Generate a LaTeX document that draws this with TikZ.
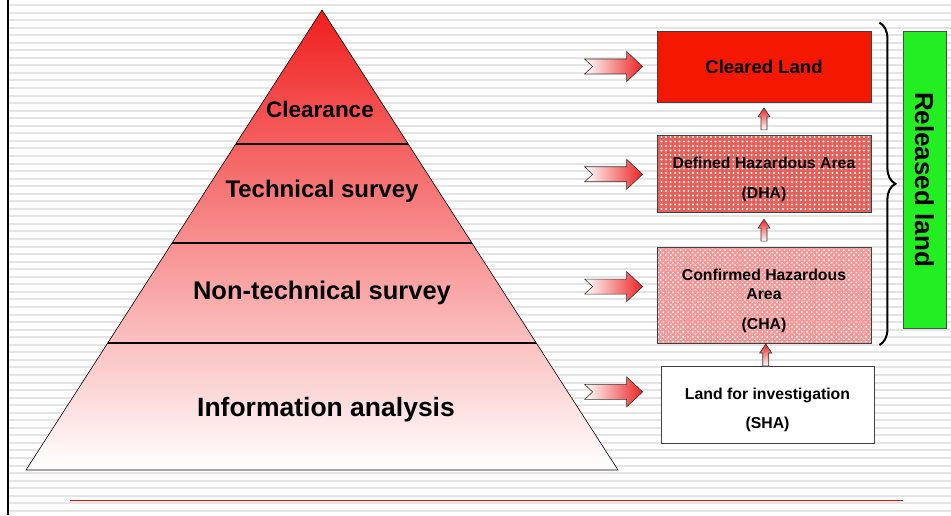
\documentclass[tikz,border=0pt]{standalone}
\usepackage{fontspec}
\setmainfont{Liberation Sans}
\usepackage{tikz}
\usetikzlibrary{positioning}
\usetikzlibrary{calc}
\usetikzlibrary{patterns.meta}
\usetikzlibrary{decorations.pathreplacing}

\definecolor{stripegray}{RGB}{228,228,228}
\definecolor{toppink}{RGB}{240,30,30}
\definecolor{clearedred}{RGB}{244,24,0}
\definecolor{dhared}{RGB}{230,96,90}
\definecolor{chapink}{RGB}{244,150,150}
\definecolor{arrowred}{RGB}{236,36,36}
\definecolor{releasegreen}{RGB}{34,238,34}

\newcommand{\topgap}{\rule{0pt}{21.5pt}}

\tikzset{
  layer/.style={font=\bfseries\fontsize{#1}{#1}\selectfont},
  divider/.style={line width=2.5pt},
  landbox/.style={draw=black!75, line width=0.8pt, minimum width=214pt, inner sep=0pt,
    align=center, font=\bfseries\fontsize{15.8}{19}\selectfont},
  pics/feedarrow/.style={code={
    \path[draw=black!80, line width=0.6pt, left color=white, right color=arrowred]
      (0,0) -- (-16,15) -- (-16,7.5) -- (-58,7.5) -- (-50,0) -- (-58,-7.5)
      -- (-16,-7.5) -- (-16,-15) -- cycle;}},
  pics/liftarrow/.style={code={
    \path[draw=black!80, line width=0.6pt, bottom color=white, top color=arrowred]
      (0,11) -- (6,2) -- (3,2) -- (3,-11) -- (-3,-11) -- (-3,2) -- (-6,2) -- cycle;}}
}

\begin{document}
\begin{tikzpicture}[x=1pt, y=1pt]
\useasboundingbox (0,0) rectangle (951,515);
\fill[white] (0,0) rectangle (951,515);
\foreach \k in {0,...,68}
  \draw[stripegray, line width=2pt] (9,510-7.55*\k) -- (951,510-7.55*\k);
\draw[line width=2pt] (8,0) -- (8,515);

% pyramid
\coordinate (apex) at (322,505);
\coordinate (bl) at (26,45);
\coordinate (br) at (618,45);
\draw[line width=0.6pt, top color=toppink, bottom color=white] (apex) -- (bl) -- (br) -- cycle;
\draw[divider] ($(apex)!0.291!(bl)$) -- ($(apex)!0.291!(br)$);
\draw[divider] ($(apex)!0.507!(bl)$) -- ($(apex)!0.507!(br)$);
\draw[divider] ($(apex)!0.724!(bl)$) -- ($(apex)!0.724!(br)$);

\node[layer=22.5] (clearance) at (320,406) {Clearance};
\node[layer=24] (technical) at (322,324) {Technical survey};
\node[layer=25.5] (nontechnical) at (322,222) {Non-technical survey};
\node[layer=26.5] (information) at (326,105) {Information analysis};

% land categories
\node[landbox, fill=clearedred, minimum height=71pt,
  font=\bfseries\fontsize{18.5}{22}\selectfont] (cleared) at (764,448.5) {Cleared Land};
\node[landbox, below=33pt of cleared, minimum height=77pt, preaction={fill=dhared},
  pattern={Dots[distance=4.5pt, radius=1.1pt]}, pattern color=white] (dha)
  {\topgap Defined Hazardous Area\\[11pt](DHA)};
\node[landbox, below=34pt of dha, minimum height=96pt, preaction={fill=chapink},
  pattern={Dots[angle=45, distance=3.5pt, radius=1pt]}, pattern color=white] (cha)
  {\topgap Confirmed Hazardous\\Area\\[11pt](CHA)};
\node[landbox, below=22pt of cha, xshift=3.5pt, minimum width=213pt, minimum height=77pt,
  fill=white] (sha) {\topgap Land for investigation\\[10pt](SHA)};

\pic at ($(cleared.south)!0.5!(dha.north)$) {liftarrow};
\pic at ($(dha.south)!0.5!(cha.north)$) {liftarrow};
\pic at ($(cha.south)!0.5!(sha.north)$) {liftarrow};

\pic at ($(cleared.west)+(-14,0)$) {feedarrow};
\pic at ($(dha.west)+(-14,0)$) {feedarrow};
\pic at ($(cha.west)+(-14,9)$) {feedarrow};
\pic at ($(sha.west)+(-18,13)$) {feedarrow};

% released land
\draw[decorate, decoration={brace, amplitude=16pt}, line width=2pt]
  ($(cleared.north east)+(8,8)$) -- ($(cha.south east)+(8,-1)$);
\node[draw=black!70, fill=releasegreen, rotate=-90, minimum width=297pt, minimum height=43pt,
  inner sep=0pt, font=\bfseries\fontsize{26}{26}\selectfont] (released) at (924.5,335.5)
  {Released land};

\draw[red, line width=1pt] (70,15) -- (903,15);
\end{tikzpicture}
\end{document}
